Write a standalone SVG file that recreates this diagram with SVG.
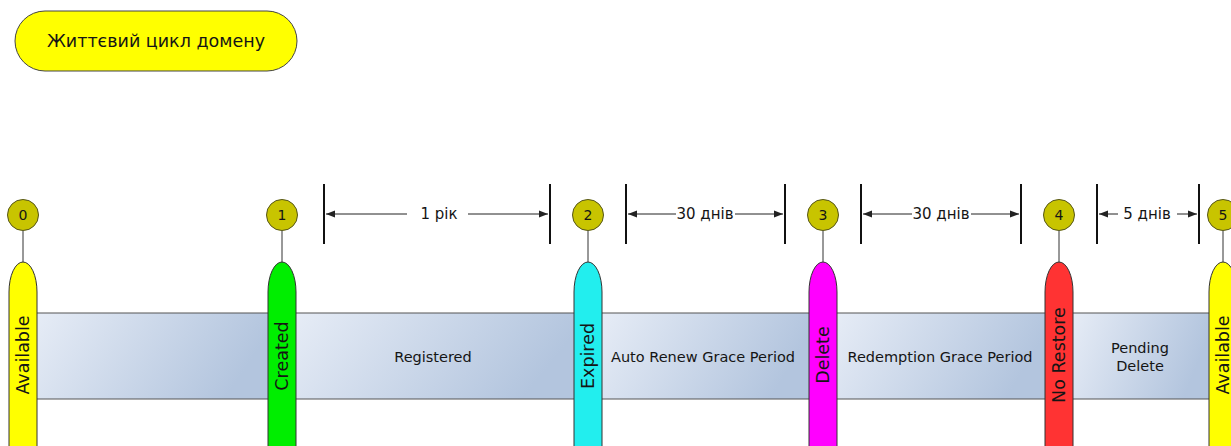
<svg xmlns="http://www.w3.org/2000/svg" width="1231" height="446" viewBox="0 0 1231 446">
<defs>
<linearGradient id="seg" x1="0" y1="0" x2="1" y2="0.25">
<stop offset="0" stop-color="#e6ecf6"/>
<stop offset="1" stop-color="#b3c5de"/>
</linearGradient>
<marker id="ah" viewBox="0 0 10 10" refX="10" refY="5" markerWidth="9" markerHeight="9" markerUnits="userSpaceOnUse" orient="auto-start-reverse">
<path d="M0,1 L10,5 L0,9 Z" fill="#222"/>
</marker>
<style>
text{font-family:"DejaVu Sans","Noto Sans",sans-serif;fill:#151515}
.num{font-size:14px;text-anchor:middle}
.circ{fill:#c8c400;stroke:#55551a;stroke-width:1}
.pill{stroke:#333;stroke-width:1}
.vl{font-size:17.5px;text-anchor:middle}
.bt{font-size:14.5px;text-anchor:middle}
.dt{font-size:15px;text-anchor:middle}
.bar{stroke:#111;stroke-width:2}
.dl{stroke:#222;stroke-width:1;fill:none}
.link{stroke:#333;stroke-width:1}
.band{fill:url(#seg)}
.bl{stroke:#555;stroke-width:1.2}
</style>
</defs>
<rect width="1231" height="446" fill="#fff"/>

<g id="title">
<rect x="15" y="11" width="282" height="60" rx="30" fill="#ffff00" stroke="#444" stroke-width="1"/>
<text x="156" y="47" style="font-size:17.5px;text-anchor:middle">Життєвий цикл домену</text>
</g>

<g id="band">
<rect class="band" x="37" y="313" width="231" height="86"/>
<rect class="band" x="296" y="313" width="278" height="86"/>
<rect class="band" x="602" y="313" width="207" height="86"/>
<rect class="band" x="837" y="313" width="208" height="86"/>
<rect class="band" x="1073" y="313" width="136" height="86"/>
<line class="bl" x1="37" y1="313" x2="1209" y2="313"/>
<line class="bl" x1="37" y1="399" x2="1209" y2="399"/>
</g>

<g id="connectors">
<line class="link" x1="23" y1="231" x2="23" y2="262"/>
<line class="link" x1="282" y1="231" x2="282" y2="262"/>
<line class="link" x1="588" y1="231" x2="588" y2="262"/>
<line class="link" x1="823" y1="231" x2="823" y2="262"/>
<line class="link" x1="1059" y1="231" x2="1059" y2="262"/>
<line class="link" x1="1223" y1="231" x2="1223" y2="262"/>
</g>

<g id="dimensions">
<line class="bar" x1="324" y1="184" x2="324" y2="244"/>
<line class="bar" x1="550" y1="184" x2="550" y2="244"/>
<line class="dl" x1="407" y1="214" x2="326" y2="214" marker-end="url(#ah)"/>
<line class="dl" x1="468" y1="214" x2="548" y2="214" marker-end="url(#ah)"/>
<text class="dt" x="439" y="219">1 рік</text>

<line class="bar" x1="626" y1="184" x2="626" y2="244"/>
<line class="bar" x1="785" y1="184" x2="785" y2="244"/>
<line class="dl" x1="676" y1="214" x2="628" y2="214" marker-end="url(#ah)"/>
<line class="dl" x1="735" y1="214" x2="783" y2="214" marker-end="url(#ah)"/>
<text class="dt" x="705" y="219">30 днів</text>

<line class="bar" x1="861" y1="184" x2="861" y2="244"/>
<line class="bar" x1="1021" y1="184" x2="1021" y2="244"/>
<line class="dl" x1="912" y1="214" x2="863" y2="214" marker-end="url(#ah)"/>
<line class="dl" x1="971" y1="214" x2="1019" y2="214" marker-end="url(#ah)"/>
<text class="dt" x="941" y="219">30 днів</text>

<line class="bar" x1="1097" y1="184" x2="1097" y2="244"/>
<line class="bar" x1="1199" y1="184" x2="1199" y2="244"/>
<line class="dl" x1="1118" y1="214" x2="1099" y2="214" marker-end="url(#ah)"/>
<line class="dl" x1="1177" y1="214" x2="1197" y2="214" marker-end="url(#ah)"/>
<text class="dt" x="1147" y="219">5 днів</text>
</g>

<g id="band-labels">
<text class="bt" x="433" y="362">Registered</text>
<text class="bt" x="703" y="362">Auto Renew Grace Period</text>
<text class="bt" x="940" y="362">Redemption Grace Period</text>
<text class="bt" x="1140" y="353">Pending</text>
<text class="bt" x="1140" y="371">Delete</text>
</g>

<g id="n0">
<circle class="circ" cx="23" cy="215" r="15.5"/>
<text class="num" x="23" y="220">0</text>
<rect class="pill" x="9" y="262" width="28" height="240" rx="14" ry="30" fill="#ffff00"/>
<text class="vl" transform="translate(29,355) rotate(-90)" x="0" y="0">Available</text>
</g>
<g id="n1">
<circle class="circ" cx="282" cy="215" r="15.5"/>
<text class="num" x="282" y="220">1</text>
<rect class="pill" x="268" y="262" width="28" height="240" rx="14" ry="30" fill="#00ee00"/>
<text class="vl" transform="translate(288,356) rotate(-90)" x="0" y="0">Created</text>
</g>
<g id="n2">
<circle class="circ" cx="588" cy="215" r="15.5"/>
<text class="num" x="588" y="220">2</text>
<rect class="pill" x="574" y="262" width="28" height="240" rx="14" ry="30" fill="#22eeee"/>
<text class="vl" transform="translate(594,356) rotate(-90)" x="0" y="0">Expired</text>
</g>
<g id="n3">
<circle class="circ" cx="823" cy="215" r="15.5"/>
<text class="num" x="823" y="220">3</text>
<rect class="pill" x="809" y="262" width="28" height="240" rx="14" ry="30" fill="#ff00ff"/>
<text class="vl" transform="translate(829,355) rotate(-90)" x="0" y="0">Delete</text>
</g>
<g id="n4">
<circle class="circ" cx="1059" cy="215" r="15.5"/>
<text class="num" x="1059" y="220">4</text>
<rect class="pill" x="1045" y="262" width="28" height="240" rx="14" ry="30" fill="#ff3333"/>
<text class="vl" transform="translate(1065,355) rotate(-90)" x="0" y="0">No Restore</text>
</g>
<g id="n5">
<circle class="circ" cx="1223" cy="215" r="15.5"/>
<text class="num" x="1223" y="220">5</text>
<rect class="pill" x="1209" y="262" width="28" height="240" rx="14" ry="30" fill="#ffff00"/>
<text class="vl" transform="translate(1229,355) rotate(-90)" x="0" y="0">Available</text>
</g>
</svg>
